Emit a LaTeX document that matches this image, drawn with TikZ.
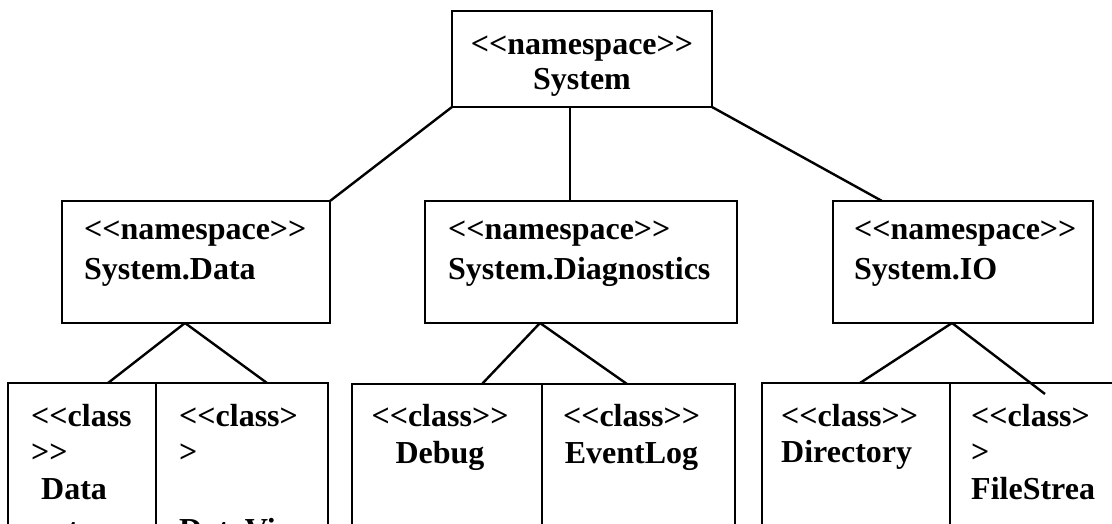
\documentclass[tikz,border=0pt]{standalone}
\usepackage{fontspec}
\setmainfont{Liberation Serif}
\usetikzlibrary{positioning}

\newcommand{\stereotype}[1]{<{}<#1>{}>}

\begin{document}
\begin{tikzpicture}[
    x=1pt, y=-1pt,
    line width=2.4pt,
    box/.style={draw, anchor=north west, inner sep=0pt, outer sep=0pt, minimum height=122pt},
    classbox/.style={draw, anchor=north west, inner sep=0pt, outer sep=0pt, minimum height=200pt},
    nstext/.style={inner sep=0pt, align=left, font=\bfseries\fontsize{32}{40}\selectfont},
    clstext/.style={inner sep=0pt, align=left, font=\bfseries\fontsize{32}{36.5}\selectfont}
]
\useasboundingbox (0,0) rectangle (1112,524);
\fill[white] (0,0) rectangle (1112,524);
\clip (0,0) rectangle (1112,524);

\node[box, minimum width=260pt, minimum height=96pt] (system) at (452,11) {};
\node[clstext, align=center, font=\bfseries\fontsize{32}{35}\selectfont, below=17.5pt of system.north] (systemtext) {\strut\stereotype{namespace}\\System};

\node[box, minimum width=268pt] (sysdata) at (62,201) {};
\node[box, minimum width=312pt] (sysdiag) at (425,201) {};
\node[box, minimum width=260pt] (sysio) at (833,201) {};
\node[nstext, below right=9pt and 21pt of sysdata.north west] (sysdatatext) {\strut\stereotype{namespace}\\System.Data};
\node[nstext, below right=9pt and 22pt of sysdiag.north west] (sysdiagtext) {\strut\stereotype{namespace}\\System.Diagnostics};
\node[nstext, below right=9pt and 20pt of sysio.north west] (sysiotext) {\strut\stereotype{namespace}\\System.IO};

\node[classbox, minimum width=148pt] (dataset) at (8,383) {};
\node[classbox, minimum width=172pt, right=0pt of dataset] (dataview) {};
\node[classbox, minimum width=190pt] (debug) at (352,384) {};
\node[classbox, minimum width=193pt, right=0pt of debug] (eventlog) {};
\node[classbox, minimum width=188pt] (directory) at (762,383) {};
\node[classbox, minimum width=200pt, right=0pt of directory] (filestream) {};

\node[clstext, below right=16.5pt and 22pt of dataset.north west] (datasettext) {\strut<{}<class\\>{}>\\\hspace*{10pt}Data\\[5pt]\hspace*{10pt}set};
\node[clstext, below right=16.5pt and 22pt of dataview.north west] (dataviewtext) {\strut<{}<class>\\>\\\strut\\[5pt]DataVi};
\node[clstext, align=center, below=16pt of debug.north, xshift=-7pt] (debugtext) {\strut\stereotype{class}\\Debug};
\node[clstext, align=center, below=16pt of eventlog.north, xshift=-7pt] (eventlogtext) {\strut\stereotype{class}\\EventLog};
\node[clstext, below right=16.5pt and 18pt of directory.north west] (directorytext) {\strut\stereotype{class}\\Directory};
\node[clstext, below right=16.5pt and 20pt of filestream.north west] (filestreamtext) {\strut<{}<class>\\>\\FileStrea};

\coordinate (diagtop) at (570,201);
\coordinate (iotop) at (882,201);
\coordinate (dataapex) at ([xshift=123pt]sysdata.south west);
\coordinate (diagapex) at ([xshift=115pt]sysdiag.south west);
\coordinate (ioapex) at ([xshift=119pt]sysio.south west);

\draw (system.south west) -- (sysdata.north east);
\draw (system.south -| diagtop) -- (diagtop);
\draw (system.south east) -- (iotop);

\draw (dataapex) -- ([xshift=100pt]dataset.north west);
\draw (dataapex) -- ([xshift=111pt]dataview.north west);
\draw (diagapex) -- ([xshift=130pt]debug.north west);
\draw (diagapex) -- ([xshift=85pt]eventlog.north west);
\draw (ioapex) -- ([xshift=98pt]directory.north west);
\draw (ioapex) -- ([xshift=95pt, yshift=-11pt]filestream.north west);
\end{tikzpicture}
\end{document}
